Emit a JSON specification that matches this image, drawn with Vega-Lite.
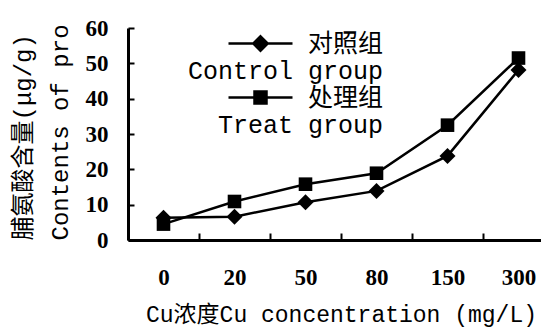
{
  "$schema": "https://vega.github.io/schema/vega-lite/v6.json",
  "width": 413,
  "height": 212,
  "autosize": {"type": "none"},
  "padding": {"left": 128, "top": 28, "right": 0, "bottom": 90},
  "background": "white",
  "config": {
    "view": {"stroke": null},
    "axis": {
      "domainColor": "black",
      "domainWidth": 3,
      "tickColor": "black",
      "tickWidth": 2,
      "labelColor": "black",
      "titleColor": "black",
      "grid": false,
      "labelFont": "Liberation Serif",
      "labelFontWeight": "bold",
      "labelFontSize": 23,
      "titleFont": "Liberation Mono, Noto Sans CJK SC",
      "titleFontWeight": "normal",
      "titleFontSize": 24
    }
  },
  "data": {
    "values": [
      {"conc": "0", "group": "对照组", "value": 6.3},
      {"conc": "20", "group": "对照组", "value": 6.6},
      {"conc": "50", "group": "对照组", "value": 10.7},
      {"conc": "80", "group": "对照组", "value": 13.9},
      {"conc": "150", "group": "对照组", "value": 23.8},
      {"conc": "300", "group": "对照组", "value": 48.1},
      {"conc": "0", "group": "处理组", "value": 4.5},
      {"conc": "20", "group": "处理组", "value": 10.9},
      {"conc": "50", "group": "处理组", "value": 15.8},
      {"conc": "80", "group": "处理组", "value": 18.9},
      {"conc": "150", "group": "处理组", "value": 32.5},
      {"conc": "300", "group": "处理组", "value": 51.5}
    ]
  },
  "encoding": {
    "x": {
      "field": "conc",
      "type": "ordinal",
      "sort": ["0", "20", "50", "80", "150", "300"],
      "scale": {"type": "band", "range": [0, 426], "paddingInner": 0, "paddingOuter": 0},
      "axis": {
        "title": "Cu浓度Cu concentration (mg/L)",
        "titleFontSize": 23,
        "labelAngle": 0,
        "tickBand": "extent",
        "tickSize": -7,
        "labelPadding": 33,
        "titlePadding": 14
      }
    },
    "y": {
      "field": "value",
      "type": "quantitative",
      "scale": {"domain": [0, 60]},
      "axis": {
        "values": [0, 10, 20, 30, 40, 50, 60],
        "tickSize": -6,
        "labelPadding": 26,
        "title": ["脯氨酸含量(μg/g)", "Contents of pro"],
        "titleAnchor": "start",
        "titleLineHeight": 37,
        "titlePadding": 13
      }
    }
  },
  "layer": [
    {
      "mark": {"type": "line", "color": "black", "strokeWidth": 2.5},
      "encoding": {"detail": {"field": "group"}}
    },
    {
      "mark": {"type": "point", "filled": true, "color": "black", "opacity": 1, "size": 256},
      "encoding": {
        "shape": {
          "field": "group",
          "type": "nominal",
          "scale": {
            "domain": ["对照组", "处理组"],
            "range": ["M0,-1L1,0L0,1L-1,0Z", "M-0.85,-0.85L0.85,-0.85L0.85,0.85L-0.85,0.85Z"]
          },
          "legend": null
        }
      }
    },
    {
      "mark": {"type": "point", "filled": false, "color": "black", "opacity": 0, "size": 256, "strokeWidth": 2.5},
      "encoding": {
        "shape": {
          "field": "group",
          "type": "nominal",
          "scale": {
            "domain": ["对照组", "处理组"],
            "range": [
              "M-4,0L4,0M0,-0.9L0.9,0L0,0.9L-0.9,0ZM0,-0.65L0.65,0L0,0.65L-0.65,0ZM0,-0.4L0.4,0L0,0.4L-0.4,0ZM0,-0.15L0.15,0L0,0.15L-0.15,0ZM0,-0.9L0,0.9",
              "M-4,0L4,0M-0.75,-0.75L0.75,-0.75L0.75,0.75L-0.75,0.75ZM-0.5,-0.5L0.5,-0.5L0.5,0.5L-0.5,0.5ZM-0.25,-0.25L0.25,-0.25L0.25,0.25L-0.25,0.25ZM0,-0.75L0,0.75"
            ]
          },
          "legend": {
            "orient": "none",
            "legendX": 120,
            "legendY": 3,
            "title": null,
            "padding": 0,
            "symbolSize": 256,
            "symbolFillColor": "black",
            "symbolStrokeColor": "black",
            "symbolStrokeWidth": 2.5,
            "symbolOpacity": 1,
            "labelFont": "Liberation Mono, Noto Sans CJK SC",
            "labelFontSize": 25,
            "labelColor": "black",
            "labelAlign": "right",
            "labelOffset": 110,
            "labelLimit": 0,
            "rowPadding": 1,
            "labelExpr": "datum.label === '对照组' ? ['对照组', 'Control group'] : ['处理组', 'Treat group']"
          }
        }
      }
    }
  ],
  "resolve": {"scale": {"shape": "independent"}}
}
